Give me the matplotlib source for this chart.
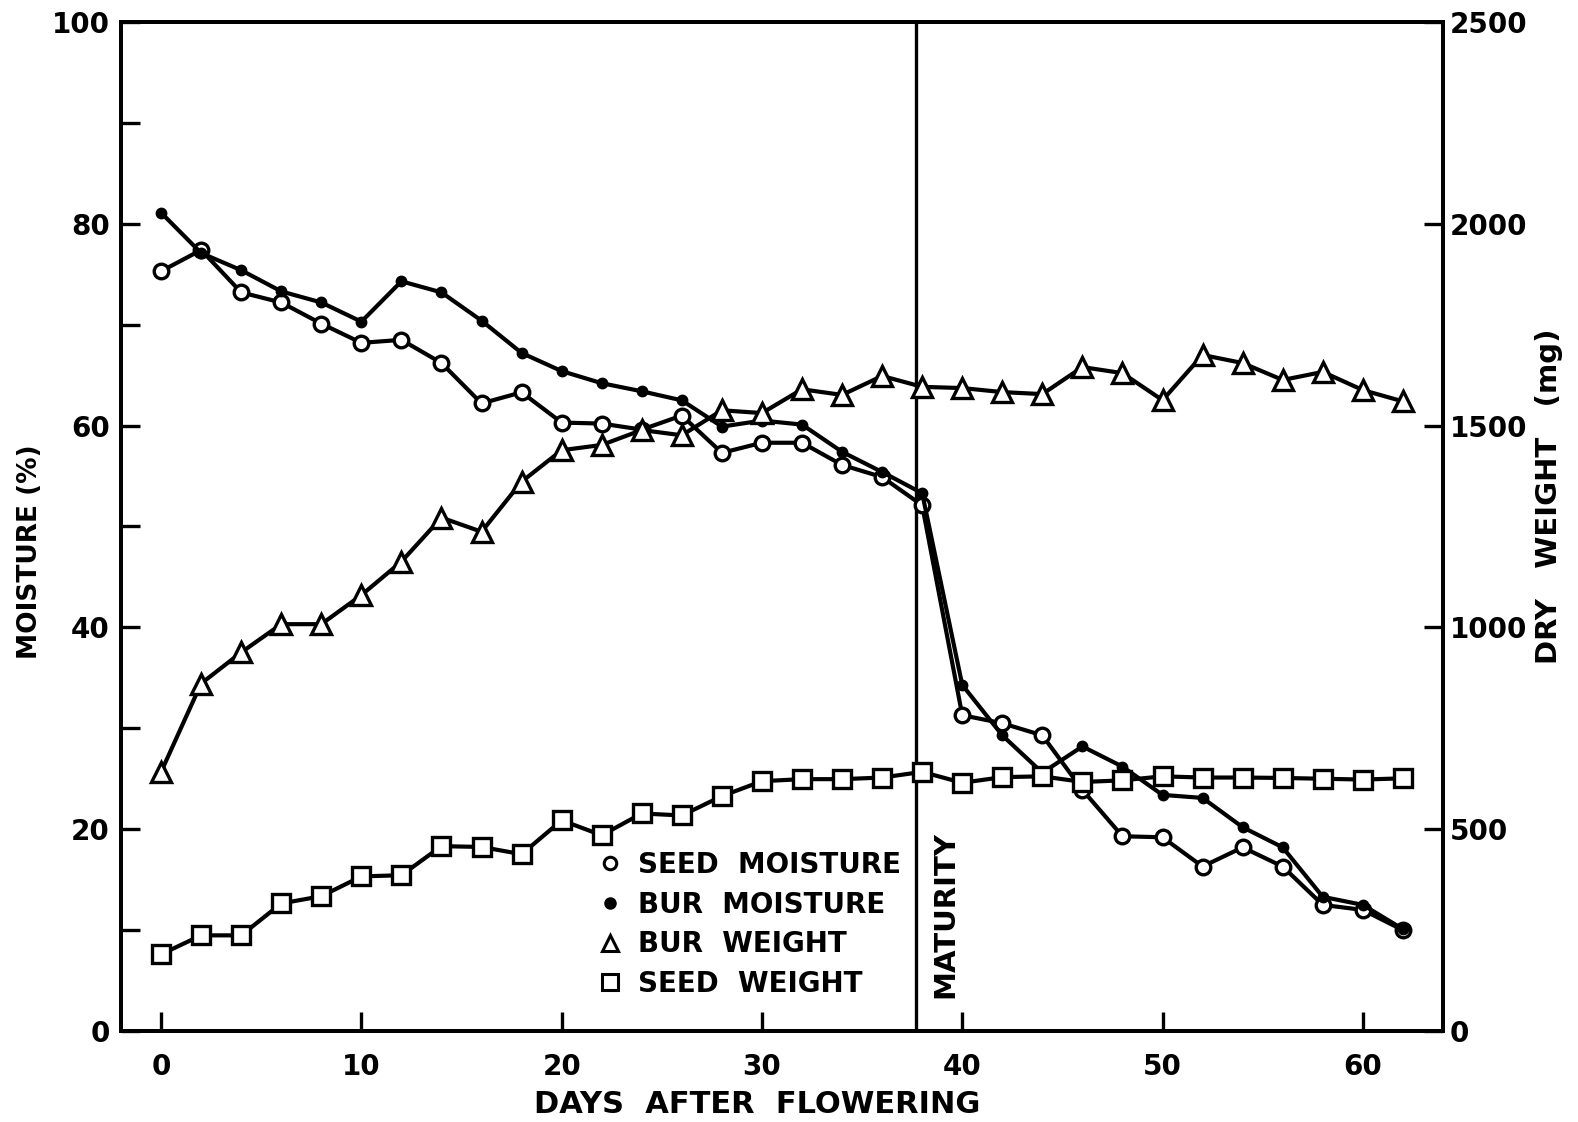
import numpy as np
import matplotlib
matplotlib.use("Agg")
import matplotlib.pyplot as plt
from matplotlib.lines import Line2D

# values, one point every 2 days
days = list(range(0, 63, 2))
seed_moisture = [75.3, 77.4, 73.2, 72.2, 70.1, 68.2, 68.5, 66.2, 62.2, 63.3,
                 60.3, 60.2, 59.6, 61.0, 57.3, 58.3, 58.3, 56.1, 54.9, 52.1,
                 31.3, 30.5, 29.3, 23.9, 19.3, 19.2, 16.3, 18.2, 16.3, 12.5,
                 12.0, 10.0]
bur_moisture = [81.1, 77.1, 75.4, 73.3, 72.2, 70.3, 74.3, 73.2, 70.4, 67.2,
                65.4, 64.2, 63.4, 62.5, 59.9, 60.5, 60.1, 57.4, 55.4, 53.3,
                34.3, 29.3, 25.6, 28.2, 26.2, 23.4, 23.1, 20.2, 18.2, 13.3,
                12.5, 10.1]
bur_weight = [642, 861, 938, 1008, 1008, 1080, 1163, 1272, 1237, 1361,
              1439, 1452, 1489, 1476, 1538, 1531, 1590, 1576, 1623, 1596,
              1593, 1583, 1578, 1645, 1630, 1563, 1675, 1655, 1613, 1633,
              1588, 1560]
seed_weight = [190, 237, 237, 316, 334, 383, 386, 458, 456, 438,
               522, 485, 539, 534, 582, 619, 624, 624, 628, 642,
               615, 629, 631, 617, 621, 631, 628, 628, 627, 625,
               623, 626]
maturity_day = 37.7

plt.rcParams['font.family'] = ['DejaVu Sans']
plt.rcParams['font.weight'] = 'bold'

fig = plt.figure(figsize=(15.78, 11.22), dpi=100)
ax = fig.add_axes([0.0767, 0.0811, 0.8377, 0.8993])
ax2 = ax.twinx()

lw = 3.0
ax.plot(days, seed_moisture, color='black', lw=lw, marker='o', ms=10.5,
        mfc='white', mec='black', mew=2.4, zorder=4)
ax.plot(days, bur_moisture, color='black', lw=lw, marker='o', ms=7.5,
        mfc='black', mec='black', zorder=5)
ax2.plot(days, bur_weight, color='black', lw=lw, marker='^', ms=15,
         mfc='white', mec='black', mew=2.4, zorder=3)
ax2.plot(days, seed_weight, color='black', lw=lw, marker='s', ms=13,
         mfc='white', mec='black', mew=2.4, zorder=3)

ax.axvline(maturity_day, color='black', lw=2.4, zorder=2)
ax.text(maturity_day + 0.75, 3.3, "MATURITY", rotation=90, ha='left',
        va='bottom', fontsize=21, fontweight='bold')

ax.set_xlim(-2, 64)
ax.set_ylim(0, 100)
ax2.set_ylim(0, 2500)

ax.set_xticks(range(0, 61, 10))
ax.set_yticks(range(0, 101, 10))
ax.set_yticklabels([str(v) if v % 20 == 0 else "" for v in range(0, 101, 10)])
ax2.set_yticks(range(0, 2501, 500))

for a in (ax, ax2):
    for s in a.spines.values():
        s.set_linewidth(2.8)
ax.tick_params(axis='both', direction='in', length=14, width=2.4,
               labelsize=20)
ax.tick_params(axis='x', pad=16)
ax.tick_params(axis='y', pad=8)
ax2.tick_params(axis='y', direction='in', length=14, width=2.4,
                labelsize=20, pad=5)

ax.set_xlabel("DAYS  AFTER  FLOWERING", fontsize=22, fontweight='bold')
ax.xaxis.set_label_coords(0.481, -0.058)
ax.set_ylabel("MOISTURE (%)", fontsize=19, fontweight='bold')
ax.yaxis.set_label_coords(-0.059, 0.475)
ax2.set_ylabel("DRY   WEIGHT   (mg)", fontsize=21, fontweight='bold')
ax2.yaxis.set_label_coords(1.07, 0.53)

handles = [
    Line2D([], [], ls='none', marker='o', ms=9, mfc='white', mec='black', mew=2.2),
    Line2D([], [], ls='none', marker='o', ms=8, mfc='black', mec='black'),
    Line2D([], [], ls='none', marker='^', ms=12, mfc='white', mec='black', mew=2.2),
    Line2D([], [], ls='none', marker='s', ms=11, mfc='white', mec='black', mew=2.2),
]
labels = ["SEED  MOISTURE", "BUR  MOISTURE", "BUR  WEIGHT", "SEED  WEIGHT"]
leg = ax2.legend(handles, labels, loc='upper left', bbox_to_anchor=(0.349, 0.192),
                 frameon=False, prop={'size': 20, 'weight': 'bold'},
                 handlelength=1.0, handletextpad=0.5, labelspacing=0.42,
                 borderpad=0)

fig.savefig("out.png", dpi=100)
